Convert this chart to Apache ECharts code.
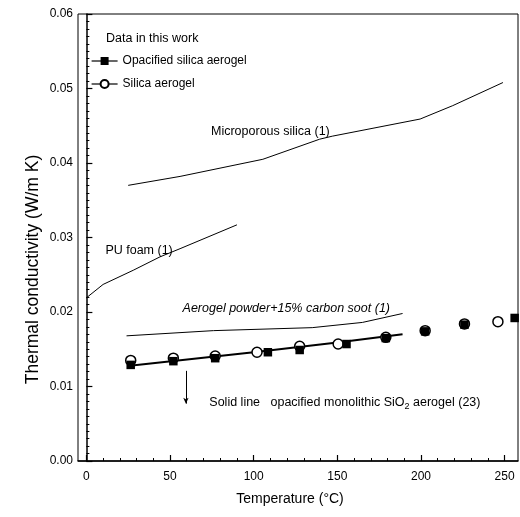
<!DOCTYPE html>
<html>
<head>
<meta charset="utf-8">
<script src="https://cdn.jsdelivr.net/npm/echarts@6/dist/echarts.min.js"></script>
<style>html,body{margin:0;padding:0;background:#fff;}#c{width:520px;height:517px;}</style>
</head>
<body>
<div id="c"></div>
<script>
// ---- data ----
const xMajorTicks = [0, 50, 100, 150, 200, 250];
const xMinorTicks = [10, 20, 30, 40, 60, 70, 80, 90, 110, 120, 130, 140, 160, 170, 180, 190, 210, 220, 230, 240];
const yTicks = [0, 0.01, 0.02, 0.03, 0.04, 0.05, 0.06];

const opacifiedT = [26.5, 52, 77, 108.5, 127.5, 155.5, 179, 202.5, 226, 256];
const opacifiedK = [0.0129, 0.0134, 0.0138, 0.0146, 0.0149, 0.0157, 0.0165, 0.0174, 0.0183, 0.0192];

const silicaT = [26.5, 52, 77, 102, 127.5, 150.5, 179, 202.5, 226, 246];
const silicaK = [0.0135, 0.0138, 0.0141, 0.0146, 0.0154, 0.0157, 0.0166, 0.0175, 0.0184, 0.0187];

const microT = [25, 56, 105.5, 139.5, 147, 199.5, 219, 249];
const microK = [0.0370, 0.0382, 0.0405, 0.0432, 0.0436, 0.0459, 0.0477, 0.0508];

const puT = [0, 10, 28, 44, 56, 90];
const puK = [0.0219, 0.0237, 0.0256, 0.0274, 0.0285, 0.0317];

const powderT = [24, 76, 135, 165, 189];
const powderK = [0.0168, 0.0175, 0.0179, 0.0186, 0.0198];

const monoT = [26, 100, 150, 189];
const monoK = [0.0128, 0.0146, 0.0159, 0.0170];

const zip = (a, b) => a.map((v, i) => [v, b[i]]);
const FONT = 'Liberation Sans';

const chart = echarts.init(document.getElementById('c'), null, {renderer: 'canvas'});

const annot = (coord, text, extra) => ({
  symbol: 'circle', symbolSize: 0, silent: true,
  data: [{coord: coord, value: text}],
  label: Object.assign({show: true, position: 'inside', color: '#000', fontFamily: FONT, fontSize: 12.5, formatter: text}, extra || {})
});

const thinLine = {color: '#000', width: 1};

chart.setOption({
  animation: false,
  backgroundColor: '#fff',
  textStyle: {fontFamily: FONT, color: '#000'},
  title: {
    text: 'Data in this work', left: 101, top: 27,
    textStyle: {fontFamily: FONT, fontSize: 12.5, fontWeight: 'normal', color: '#000'}
  },
  legend: {
    orient: 'vertical', left: 86, top: 50, itemGap: 11,
    itemWidth: 26, itemHeight: 10,
    data: ['Opacified silica aerogel', 'Silica aerogel'],
    textStyle: {fontFamily: FONT, fontSize: 12, color: '#000'},
    lineStyle: {color: '#000', width: 1.2, opacity: 1}
  },
  grid: {left: 78, right: 2, top: 14, bottom: 56, show: true, borderColor: '#000', borderWidth: 1},
  xAxis: [{
    type: 'value', min: -5, max: 258,
    axisLine: {lineStyle: {color: '#000', width: 1.5}},
    axisTick: {inside: true, length: 6, customValues: xMajorTicks, lineStyle: {color: '#000', width: 1.2}},
    axisLabel: {customValues: xMajorTicks, color: '#000', fontFamily: FONT, fontSize: 12, margin: 10},
    splitLine: {show: false},
    name: 'Temperature (°C)', nameLocation: 'middle', nameGap: 31,
    nameTextStyle: {fontFamily: FONT, fontSize: 14, color: '#000', padding: [0, 16, 0, 0]}
  }, {
    type: 'value', min: -5, max: 258, position: 'bottom',
    axisLine: {show: false},
    axisTick: {inside: true, length: 3, customValues: xMinorTicks, lineStyle: {color: '#000', width: 1}},
    axisLabel: {show: false},
    splitLine: {show: false}
  }],
  yAxis: {
    type: 'value', min: 0, max: 0.06, interval: 0.01,
    axisLine: {show: true, lineStyle: {color: '#000', width: 1.5}},
    axisTick: {inside: true, length: 6, lineStyle: {color: '#000', width: 1.2}},
    minorTick: {show: true, splitNumber: 10, length: 3, lineStyle: {color: '#000', width: 1}},
    axisLabel: {color: '#000', fontFamily: FONT, fontSize: 12, margin: 5,
      formatter: v => yTicks.some(t => Math.abs(t - v) < 1e-9) ? v.toFixed(2) : ''},
    splitLine: {show: false},
    name: 'Thermal conductivity (W/m K)', nameLocation: 'middle', nameGap: 36,
    nameMoveOverlap: false,
    nameTextStyle: {fontFamily: FONT, fontSize: 17.5, color: '#000', padding: [0, 64, 0, 0]}
  },
  series: [
    {
      name: 'Microporous silica', type: 'line', data: zip(microT, microK),
      showSymbol: false, lineStyle: thinLine, silent: true,
      markPoint: annot([110, 0.0442], 'Microporous silica (1)')
    },
    {
      name: 'PU foam', type: 'line', data: zip(puT, puK),
      showSymbol: false, lineStyle: thinLine, silent: true,
      markPoint: annot([31.5, 0.0283], 'PU foam (1)')
    },
    {
      name: 'Aerogel powder', type: 'line', data: zip(powderT, powderK),
      showSymbol: false, lineStyle: thinLine, silent: true,
      markPoint: annot([119.5, 0.0205], 'Aerogel powder+15% carbon soot (1)', {fontStyle: 'italic'})
    },
    {
      name: 'Monolithic', type: 'line', data: zip(monoT, monoK),
      showSymbol: false, lineStyle: {color: '#000', width: 2}, silent: true,
      markPoint: {
        symbol: 'circle', symbolSize: 0, silent: true,
        data: [{coord: [73.5, 0.0079]}],
        label: {
          show: true, position: 'right', distance: 0, color: '#000',
          formatter: '{a|Solid line   opacified monolithic SiO}{s|2}{a| aerogel (23)}',
          rich: {
            a: {fontFamily: FONT, fontSize: 12.5, color: '#000'},
            s: {fontFamily: FONT, fontSize: 9, color: '#000', padding: [8, 0, 0, 0]}
          }
        }
      },
      markLine: {
        silent: true, symbol: ['none', 'arrow'], symbolSize: [4, 6],
        lineStyle: {color: '#000', width: 1, type: 'solid'},
        label: {show: false},
        data: [[{coord: [59.5, 0.0121]}, {coord: [59.5, 0.0077]}]]
      }
    },
    {
      name: 'Silica aerogel', type: 'line', data: zip(silicaT, silicaK),
      symbol: 'circle', symbolSize: 10, showSymbol: true,
      lineStyle: {opacity: 0, width: 0},
      itemStyle: {color: '#fff', borderColor: '#000', borderWidth: 1.5},
      z: 3
    },
    {
      name: 'Opacified silica aerogel', type: 'line', data: zip(opacifiedT, opacifiedK),
      symbol: 'rect', symbolSize: 8.5, showSymbol: true,
      lineStyle: {opacity: 0, width: 0},
      itemStyle: {color: '#000', borderColor: '#000', borderWidth: 0},
      z: 4
    }
  ]
});
</script>
</body>
</html>
